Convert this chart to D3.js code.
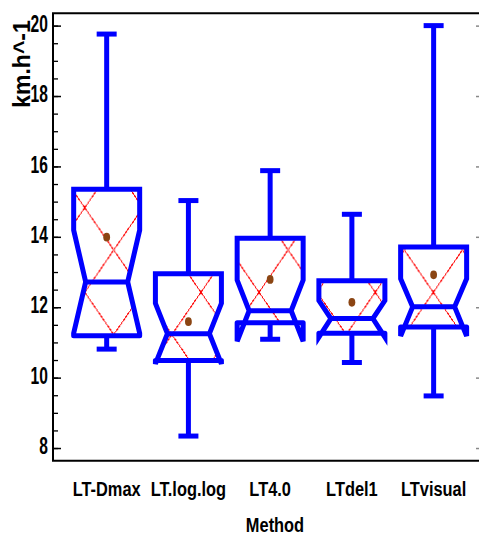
<!DOCTYPE html>
<html>
<head>
<meta charset="utf-8">
<script src="https://cdnjs.cloudflare.com/ajax/libs/d3/7.8.5/d3.min.js"></script>
<style>
  body { margin: 0; background: #fff; }
  svg { display: block; }
</style>
</head>
<body>
<div id="chart"></div>
<script>
//data
var methods = ['LT-Dmax', 'LT.log.log', 'LT4.0', 'LTdel1', 'LTvisual'];
var whiskerLow = [10.81, 8.34, 11.09, 10.43, 9.48];
var q1 = [11.19, 10.49, 11.56, 11.26, 11.44];
var median = [12.72, 11.25, 11.90, 11.68, 12.01];
var q3 = [15.35, 12.95, 13.96, 12.75, 13.71];
var whiskerHigh = [19.76, 15.03, 15.88, 14.64, 20.0];
var notchLow = [11.26, 10.39, 11.03, 11.15, 11.18];
var notchHigh = [14.19, 12.11, 12.77, 12.19, 12.81];
var means = [13.99, 11.59, 12.79, 12.14, 12.92];
var yMajor = [8, 10, 12, 14, 16, 18, 20];
var yMinor = d3.range(8, 20.01, 0.5);

var width = 479, height = 536;
var plot = { left: 53, right: 482, top: 13.3, bottom: 460.7 };
var blue = '#0000ff';
var font = '"Liberation Sans", Arial, sans-serif';
var narrow = 0.82; //no narrow font installed, squeeze instead

var svg = d3.select('#chart').append('svg')
  .attr('width', width)
  .attr('height', height);

//scales
var y = d3.scaleLinear()
  .domain([7.64, 20.35])
  .range([plot.bottom, plot.top]);

var x = d3.scaleBand()
  .domain(methods)
  .range([65.8, 474.5]);

var boxHalf = 33, notchHalf = 21, capHalf = 10;

//red hatch
var defs = svg.append('defs');
var hatch = defs.append('pattern')
  .attr('id', 'hatch')
  .attr('patternUnits', 'userSpaceOnUse')
  .attr('x', 84.75)
  .attr('y', 207.7)
  .attr('width', 58.1)
  .attr('height', 84.6);
hatch.append('path')
  .attr('d', 'M0,0L58.1,84.6M58.1,0L0,84.6')
  .attr('stroke', '#ff0000')
  .attr('stroke-width', 1)
  .attr('shape-rendering', 'crispEdges')
  .attr('fill', 'none');

var boxes = methods.map(function(m, i) {
  return {
    name: m, cx: x(m) + x.bandwidth() / 2,
    lo: whiskerLow[i], q1: q1[i], med: median[i], q3: q3[i], hi: whiskerHigh[i],
    nLo: notchLow[i], nHi: notchHigh[i], mean: means[i]
  };
});

boxes.forEach(function(b, i) {
  defs.append('clipPath')
    .attr('id', 'clip' + i)
    .append('rect')
    .attr('x', b.cx - boxHalf)
    .attr('y', y(b.q3))
    .attr('width', boxHalf * 2)
    .attr('height', y(b.q1) - y(b.q3));
});

//axes
var gy = svg.append('g')
  .attr('transform', 'translate(' + plot.left + ',0)');

gy.append('g')
  .call(d3.axisLeft(y).tickValues(yMinor).tickSize(-5).tickSizeOuter(0).tickFormat(''))
  .call(function(g) { g.select('.domain').remove(); })
  .selectAll('line').attr('stroke-width', 1.3);

gy.append('g')
  .call(d3.axisLeft(y).tickValues(yMajor).tickSize(-8).tickSizeOuter(0))
  .call(function(g) { g.select('.domain').remove(); })
  .call(function(g) {
    g.selectAll('line').attr('stroke-width', 1.5);
    g.selectAll('text')
      .attr('font-family', font)
      .attr('font-weight', 'bold')
      .attr('font-size', 19)
      .attr('fill', '#000')
      .attr('x', -6.3)
      .attr('y', -1.6)
      .attr('transform', 'scale(' + narrow + ',1.26)');
  });

//right side ticks (mostly off canvas)
svg.append('g')
  .attr('transform', 'translate(' + plot.right + ',0)')
  .call(d3.axisRight(y).tickValues(yMajor).tickSize(-6).tickSizeOuter(0).tickFormat(''))
  .call(function(g) { g.select('.domain').remove(); })
  .selectAll('line').attr('stroke', '#888').attr('stroke-width', 1.5);

//frame
svg.append('path')
  .attr('d', 'M' + plot.left + ',' + plot.bottom + 'V' + plot.top + 'H' + plot.right + 'V' + plot.bottom + 'Z')
  .attr('fill', 'none')
  .attr('stroke', '#000')
  .attr('stroke-width', 2);

//x axis labels
svg.append('g')
  .attr('transform', 'translate(0,' + plot.bottom + ')')
  .call(d3.axisBottom(x).tickSize(0).tickPadding(19))
  .call(function(g) {
    g.select('.domain').remove();
    g.selectAll('text')
      .attr('font-family', font)
      .attr('font-weight', 'bold')
      .attr('font-size', 20)
      .attr('fill', '#000')
      .attr('transform', 'scale(' + narrow + ',1.05)');
  });

//axis titles
svg.append('text')
  .attr('transform', 'translate(275,532) scale(' + narrow + ',1.05)')
  .attr('text-anchor', 'middle')
  .attr('font-family', font)
  .attr('font-weight', 'bold')
  .attr('font-size', 20)
  .text('Method');

svg.append('text')
  .attr('transform', 'translate(29.5,64) rotate(-90)')
  .attr('text-anchor', 'middle')
  .attr('font-family', font)
  .attr('font-weight', 'bold')
  .attr('font-size', 23)
  .text('km.h^-1');

//hatch fill inside the notched boxes
svg.append('g')
  .selectAll('path')
  .data(boxes)
  .enter().append('path')
  .attr('clip-path', function(d, i) { return 'url(#clip' + i + ')'; })
  .attr('fill', 'url(#hatch)')
  .attr('d', function(d) {
    var L = d.cx - boxHalf, R = d.cx + boxHalf;
    var iL = d.cx - notchHalf, iR = d.cx + notchHalf;
    return 'M' + L + ',' + y(d.q3) + 'L' + L + ',' + y(d.nHi) + 'L' + iL + ',' + y(d.med) +
      'L' + L + ',' + y(d.nLo) + 'L' + L + ',' + y(d.q1) + 'L' + R + ',' + y(d.q1) +
      'L' + R + ',' + y(d.nLo) + 'L' + iR + ',' + y(d.med) + 'L' + R + ',' + y(d.nHi) +
      'L' + R + ',' + y(d.q3) + 'Z';
  });

//whiskers
var wg = svg.append('g')
  .attr('stroke', blue)
  .attr('stroke-width', 5);

wg.selectAll('.whi')
  .data(boxes)
  .enter().append('line')
  .attr('x1', function(d) { return d.cx; })
  .attr('x2', function(d) { return d.cx; })
  .attr('y1', function(d) { return y(d.q3); })
  .attr('y2', function(d) { return y(d.hi); });

wg.selectAll('.wlo')
  .data(boxes)
  .enter().append('line')
  .attr('x1', function(d) { return d.cx; })
  .attr('x2', function(d) { return d.cx; })
  .attr('y1', function(d) { return y(d.q1); })
  .attr('y2', function(d) { return y(d.lo); });

//caps
wg.selectAll('.cap')
  .data(boxes.reduce(function(a, d) { return a.concat([{ cx: d.cx, v: d.hi }, { cx: d.cx, v: d.lo }]); }, []))
  .enter().append('line')
  .attr('x1', function(d) { return d.cx - capHalf; })
  .attr('x2', function(d) { return d.cx + capHalf; })
  .attr('y1', function(d) { return y(d.v); })
  .attr('y2', function(d) { return y(d.v); });

//notched box outline
svg.append('g')
  .selectAll('path')
  .data(boxes)
  .enter().append('path')
  .attr('fill', 'none')
  .attr('stroke', blue)
  .attr('stroke-width', 5)
  .attr('stroke-linecap', 'round')
  .attr('stroke-linejoin', 'miter')
  .attr('d', function(d) {
    var L = d.cx - boxHalf, R = d.cx + boxHalf;
    var iL = d.cx - notchHalf, iR = d.cx + notchHalf;
    var p = d3.path();
    p.moveTo(L, y(d.q1)); p.lineTo(L, y(d.nLo)); p.lineTo(iL, y(d.med));
    p.lineTo(L, y(d.nHi)); p.lineTo(L, y(d.q3)); p.lineTo(R, y(d.q3));
    p.lineTo(R, y(d.nHi)); p.lineTo(iR, y(d.med)); p.lineTo(R, y(d.nLo)); p.lineTo(R, y(d.q1));
    p.moveTo(L, y(d.q1)); p.lineTo(R, y(d.q1));
    p.moveTo(iL, y(d.med)); p.lineTo(iR, y(d.med));
    return p.toString();
  });

//means
svg.append('g')
  .selectAll('ellipse')
  .data(boxes)
  .enter().append('ellipse')
  .attr('cx', function(d) { return d.cx; })
  .attr('cy', function(d) { return y(d.mean); })
  .attr('rx', 3.4)
  .attr('ry', 4.4)
  .attr('fill', '#8b4513');
</script>
</body>
</html>
